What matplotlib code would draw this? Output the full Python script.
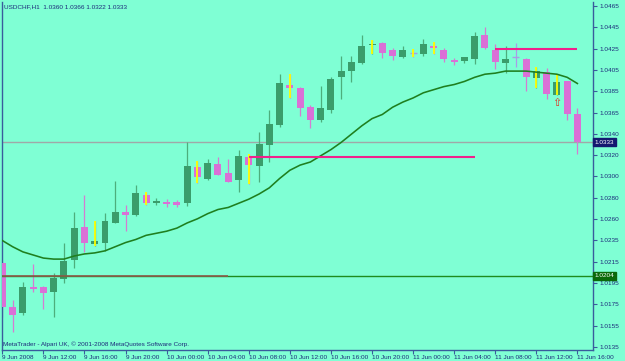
import numpy as np
import matplotlib
matplotlib.use("Agg")
import matplotlib.pyplot as plt
from matplotlib.transforms import blended_transform_factory

# ---- data (USDCHF, H1) ----
bar_open = [1.0216, 1.0174, 1.0168, 1.0193, 1.0193, 1.0188, 1.0201, 1.0219, 1.0251, 1.0235,
            1.0236, 1.0255, 1.0266, 1.0263, 1.0282, 1.0274, 1.0275, 1.0275, 1.0274, 1.0309,
            1.0298, 1.0312, 1.0303, 1.0297, 1.0319, 1.0310, 1.0330, 1.0350, 1.0389, 1.0386,
            1.0367, 1.0355, 1.0364, 1.0396, 1.0402, 1.0410, 1.0427, 1.0429, 1.0422, 1.0416,
            1.0420, 1.0419, 1.0426, 1.0422, 1.0413, 1.0412, 1.0414, 1.0437, 1.0422, 1.0410,
            1.0416, 1.0414, 1.0395, 1.0401, 1.0379, 1.0392, 1.0360]
bar_high = [1.0217, 1.0180, 1.0198, 1.0215, 1.0194, 1.0207, 1.0236, 1.0266, 1.0282, 1.0257,
            1.0265, 1.0296, 1.0272, 1.0292, 1.0285, 1.0279, 1.0278, 1.0277, 1.0333, 1.0315,
            1.0317, 1.0319, 1.0317, 1.0326, 1.0322, 1.0343, 1.0364, 1.0399, 1.0399, 1.0387,
            1.0369, 1.0388, 1.0396, 1.0417, 1.0417, 1.0437, 1.0432, 1.0430, 1.0424, 1.0426,
            1.0423, 1.0433, 1.0430, 1.0424, 1.0415, 1.0416, 1.0440, 1.0445, 1.0428, 1.0426,
            1.0429, 1.0415, 1.0406, 1.0405, 1.0399, 1.0392, 1.0366]
bar_low = [1.0164, 1.0149, 1.0166, 1.0188, 1.0172, 1.0164, 1.0197, 1.0211, 1.0227, 1.0233,
           1.0228, 1.0255, 1.0247, 1.0262, 1.0272, 1.0272, 1.0270, 1.0270, 1.0271, 1.0294,
           1.0297, 1.0301, 1.0295, 1.0285, 1.0293, 1.0295, 1.0314, 1.0348, 1.0376, 1.0359,
           1.0347, 1.0353, 1.0361, 1.0375, 1.0391, 1.0409, 1.0419, 1.0415, 1.0413, 1.0415,
           1.0416, 1.0417, 1.0419, 1.0411, 1.0408, 1.0410, 1.0409, 1.0423, 1.0404, 1.0400,
           1.0406, 1.0383, 1.0386, 1.0375, 1.0379, 1.0355, 1.0322]
bar_close = [1.0174, 1.0166, 1.0193, 1.0191, 1.0187, 1.0202, 1.0218, 1.0250, 1.0236, 1.0238,
             1.0257, 1.0266, 1.0263, 1.0284, 1.0274, 1.0276, 1.0273, 1.0272, 1.0310, 1.0299,
             1.0313, 1.0301, 1.0295, 1.0320, 1.0311, 1.0331, 1.0351, 1.0390, 1.0386, 1.0366,
             1.0355, 1.0366, 1.0394, 1.0402, 1.0411, 1.0426, 1.0428, 1.0420, 1.0417, 1.0422,
             1.0420, 1.0428, 1.0424, 1.0414, 1.0411, 1.0416, 1.0436, 1.0424, 1.0411, 1.0414,
             1.0416, 1.0396, 1.0402, 1.0380, 1.0391, 1.0360, 1.0333]
ma_values = [1.0238, 1.0232, 1.0227, 1.0224, 1.0221, 1.0220, 1.0220, 1.0223, 1.0225, 1.0226,
             1.0228, 1.0232, 1.0236, 1.0239, 1.0243, 1.0245, 1.0247, 1.0250, 1.0255, 1.0259,
             1.0264, 1.0268, 1.0270, 1.0274, 1.0278, 1.0283, 1.0289, 1.0298, 1.0306, 1.0311,
             1.0314, 1.0320, 1.0326, 1.0333, 1.0341, 1.0349, 1.0356, 1.0360, 1.0367, 1.0372,
             1.0376, 1.0381, 1.0384, 1.0387, 1.0389, 1.0392, 1.0396, 1.0399, 1.0400, 1.0402,
             1.0402, 1.0402, 1.0401, 1.0400, 1.0399, 1.0396, 1.0390]
highlight_bars = [9, 14, 19, 24, 28, 36, 40, 42, 52, 54]
arrow_bar = 54
arrow_price = 1.0371
bid_price = 1.0333
hline_price = 1.0204
hline_brown_end = 22
seg1 = (24, 46, 1.0319)
seg2 = (48, 56, 1.0423)
x_tick_bars = [0, 4, 8, 12, 16, 20, 24, 28, 32, 36, 40, 44, 48, 52, 56]
x_labels = ["9 Jun 2008", "9 Jun 12:00", "9 Jun 16:00", "9 Jun 20:00", "10 Jun 00:00",
            "10 Jun 04:00", "10 Jun 08:00", "10 Jun 12:00", "10 Jun 16:00", "10 Jun 20:00",
            "11 Jun 00:00", "11 Jun 04:00", "11 Jun 08:00", "11 Jun 12:00", "11 Jun 16:00"]
y_labels = ["1.0465", "1.0445", "1.0425", "1.0405", "1.0385", "1.0365", "1.0340", "1.0320",
            "1.0300", "1.0280", "1.0260", "1.0235", "1.0215", "1.0195", "1.0175", "1.0155", "1.0135"]
title_text = "USDCHF,H1  1.0360 1.0366 1.0322 1.0333"
copyright_text = "MetaTrader - Alpari UK, \u00a9 2001-2008 MetaQuotes Software Corp."

# ---- style ----
BG = "#7FFFD4"
BULL = "#3A9D6B"
BULL_WICK = "#4DAE7C"
BEAR = "#DA70D6"
BEAR_WICK = "#D47CD2"
DOJI = "#A99BE8"
NAVY = "#1C2A7A"
FRAME = "#3A5C9C"
FS = 4.6
plt.rcParams['font.family'] = ['Liberation Sans', 'DejaVu Sans']

W, H = 625, 361
fig = plt.figure(figsize=(W / 100, H / 100), dpi=100, facecolor=BG)
ax = fig.add_axes([2 / W, 11 / H, 590.5 / W, 348 / H], facecolor=BG)

o = np.array(bar_open); hi = np.array(bar_high); lo = np.array(bar_low); c = np.array(bar_close)
x = np.arange(len(o))
bull = c > o
bear = c < o
doji = c == o

# wicks
ax.vlines(x[bull], lo[bull], hi[bull], color=BULL_WICK, lw=0.9, zorder=2)
ax.vlines(x[bear], lo[bear], hi[bear], color=BEAR_WICK, lw=0.9, zorder=2)
ax.vlines(x[doji], lo[doji], hi[doji], color=DOJI, lw=0.9, zorder=2)
# bodies
ax.bar(x[bull], (c - o)[bull], bottom=o[bull], width=0.68, color=BULL, lw=0, zorder=3)
ax.bar(x[bear], (o - c)[bear], bottom=c[bear], width=0.68, color=BEAR, lw=0, zorder=3)
ax.hlines(o[doji], x[doji] - 0.34, x[doji] + 0.34, color=DOJI, lw=1.0, zorder=3)
# yellow highlights
hb = np.array(highlight_bars)
ax.vlines(hb, lo[hb], hi[hb], color="#FFFF00", lw=1.3, zorder=4)

# moving average
ax.plot(x, ma_values, color="#1F7F1F", lw=1.15, zorder=5)

# horizontal lines
ax.axhline(bid_price, color="#A0A8A8", lw=1.0, zorder=1)
ax.axhline(hline_price, color="#1E8C1E", lw=1.0, zorder=5)
ax.hlines(hline_price, -0.5, hline_brown_end, color="#8C5A4A", lw=1.2, zorder=6)
ax.hlines(seg1[2], seg1[0], seg1[1], color="#F0208C", lw=1.5, zorder=6)
ax.hlines(seg2[2], seg2[0], seg2[1], color="#F0208C", lw=1.5, zorder=6)

# arrow
ax.text(arrow_bar, arrow_price, "\u21e7", color="#E03020", ha="center", va="center",
        fontsize=8, family=["DejaVu Sans"], zorder=7)

ax.set_xlim(-0.03, 57.47)
ax.set_ylim(1.01320, 1.04689)

# axes styling
ax.spines["top"].set_visible(False)
for s in ["left", "right", "bottom"]:
    ax.spines[s].set_color(FRAME)
    ax.spines[s].set_linewidth(1.0)

ax.yaxis.tick_right()
yt = np.linspace(1.0465, 1.0135, len(y_labels))
ax.set_yticks(yt)
ax.set_yticklabels(y_labels)
ax.tick_params(axis="y", direction="out", length=3, width=0.8, colors=FRAME,
               labelcolor=NAVY, labelsize=FS, pad=2)
ax.set_xticks(x_tick_bars)
ax.set_xticklabels(x_labels, ha="left")
ax.tick_params(axis="x", direction="out", length=3, width=0.8, colors=FRAME,
               labelcolor=NAVY, labelsize=FS, pad=0.5)

# price label boxes on the right
tr = blended_transform_factory(ax.transAxes, ax.transData)
ax.text(1.0035, bid_price, "1.0333", transform=tr, ha="left", va="center", fontsize=FS,
        color="white", clip_on=False, zorder=10,
        bbox=dict(boxstyle="square,pad=0.25", facecolor="#151870", edgecolor="#151870"))
ax.text(1.0035, hline_price, "1.0204", transform=tr, ha="left", va="center", fontsize=FS,
        color="white", clip_on=False, zorder=10,
        bbox=dict(boxstyle="square,pad=0.25", facecolor="#0A6A0A", edgecolor="#0A6A0A"))

# texts
ax.text(0.004, 0.987, title_text, transform=ax.transAxes, ha="left", va="center",
        fontsize=FS, color=NAVY, zorder=10)
ax.text(0.002, 0.017, copyright_text, transform=ax.transAxes, ha="left", va="center",
        fontsize=FS, color=NAVY, zorder=10)

fig.savefig("out.png", dpi=100, facecolor=BG)
